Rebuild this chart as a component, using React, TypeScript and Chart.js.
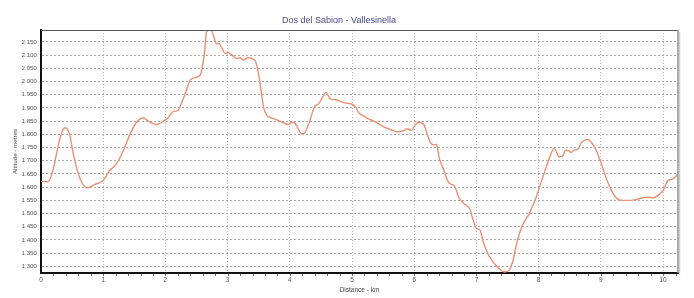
import React, { useEffect, useRef } from 'react';
import { Chart, registerables } from 'chart.js';

Chart.register(...registerables);

const titleText = 'Dos del Sabion - Vallesinella';
const xAxisTitle = 'Distance - km';
const yAxisTitle = 'Altitude - metres';

const distanceKm = [
  0.0, 0.11, 0.19, 0.27, 0.33, 0.39, 0.46, 0.51, 0.57, 0.64, 0.745, 0.86, 1.0, 1.1, 1.21, 1.32, 1.43, 1.53, 1.64, 1.69,
  1.75, 1.86, 1.97, 2.05, 2.13, 2.2, 2.26, 2.33, 2.4, 2.48, 2.56, 2.59, 2.63, 2.66, 2.73, 2.77, 2.82, 2.86, 2.91, 2.96,
  3.01, 3.07, 3.15, 3.2, 3.25, 3.33, 3.39, 3.45, 3.5, 3.54, 3.58, 3.63, 3.71, 3.82, 3.93, 3.97, 4.04, 4.09, 4.19, 4.22,
  4.3, 4.4, 4.46, 4.52, 4.58, 4.65, 4.73, 4.81, 4.89, 4.97, 5.05, 5.11, 5.17, 5.25, 5.35, 5.43, 5.54, 5.65, 5.73, 5.81,
  5.89, 5.96, 6.01, 6.08, 6.16, 6.21, 6.26, 6.32, 6.36, 6.4, 6.48, 6.56, 6.64, 6.72, 6.8, 6.89, 6.94, 7.0, 7.06, 7.1,
  7.18, 7.26, 7.37, 7.45, 7.53, 7.59, 7.66, 7.74, 7.85, 7.96, 8.04, 8.12, 8.2, 8.25, 8.33, 8.39, 8.43, 8.49, 8.52, 8.57,
  8.63, 8.69, 8.78, 8.85, 8.93, 9.01, 9.09, 9.2, 9.3, 9.41, 9.54, 9.68, 9.76, 9.84, 9.92, 10.0, 10.08, 10.16, 10.24,
];

const altitudeM = [
  1622, 1620, 1662, 1750, 1806, 1825, 1800, 1737, 1675, 1625, 1597, 1610, 1625, 1662, 1687, 1737, 1800, 1844, 1862, 1856,
  1846, 1837, 1850, 1865, 1887, 1890, 1919, 1962, 2006, 2015, 2025, 2050, 2112, 2187, 2198, 2175, 2144, 2144, 2125, 2106,
  2110, 2100, 2087, 2090, 2081, 2090, 2087, 2075, 2025, 1962, 1900, 1872, 1862, 1852, 1840, 1837, 1846, 1840, 1802, 1802,
  1837, 1906, 1915, 1937, 1959, 1934, 1931, 1925, 1919, 1916, 1906, 1881, 1872, 1860, 1850, 1840, 1825, 1815, 1809, 1812,
  1821, 1815, 1835, 1846, 1835, 1800, 1769, 1760, 1762, 1712, 1662, 1615, 1606, 1560, 1537, 1519, 1481, 1444, 1437, 1400,
  1350, 1319, 1290, 1279, 1287, 1325, 1400, 1456, 1500, 1562, 1619, 1675, 1727, 1747, 1715, 1719, 1740, 1737, 1731, 1740,
  1744, 1769, 1781, 1769, 1737, 1687, 1631, 1575, 1552, 1550, 1552, 1560, 1562, 1560, 1569, 1587, 1625, 1631, 1650,
];

const xTickValues = [0, 1, 2, 3, 4, 5, 6, 7, 8, 9, 10];
const yTickValues = [1300, 1350, 1400, 1450, 1500, 1550, 1600, 1650, 1700, 1750, 1800, 1850, 1900, 1950, 2000, 2050, 2100, 2150];
const xMinorStep = 0.2;

const narrowFont = "'Liberation Sans Narrow', 'Arial Narrow', 'Liberation Sans', Arial, sans-serif";

function formatThousands(v: number): string {
  const th = Math.floor(v / 1000);
  const rest = String(Math.round(v % 1000)).padStart(3, '0');
  return th > 0 ? `${th}.${rest}` : String(v);
}

const framePlugin = {
  id: 'frame',
  afterDraw(chart: any) {
    const { ctx, chartArea } = chart;
    const { left, right, top, bottom } = chartArea;
    const xs = chart.scales.x;
    ctx.save();
    ctx.strokeStyle = '#555555';
    ctx.lineWidth = 1;
    ctx.beginPath();
    ctx.moveTo(left, top + 0.5);
    ctx.lineTo(right, top + 0.5);
    ctx.stroke();
    ctx.strokeStyle = '#8a8a8a';
    ctx.lineWidth = 1.5;
    ctx.beginPath();
    ctx.moveTo(right, top);
    ctx.lineTo(right, bottom);
    ctx.stroke();
    ctx.strokeStyle = '#cfcfcf';
    ctx.lineWidth = 1.5;
    ctx.beginPath();
    ctx.moveTo(right + 1.5, top + 2);
    ctx.lineTo(right + 1.5, bottom);
    ctx.stroke();
    ctx.strokeStyle = '#777777';
    ctx.lineWidth = 1;
    const max = xs.max;
    for (let i = 1; i * xMinorStep <= max + 1e-9; i++) {
      const v = i * xMinorStep;
      const px = Math.round(xs.getPixelForValue(v)) + 0.5;
      ctx.beginPath();
      ctx.moveTo(px, bottom + 1);
      ctx.lineTo(px, bottom + 3);
      ctx.stroke();
    }
    ctx.restore();
  },
};

export default function App() {
  const canvasRef = useRef<HTMLCanvasElement | null>(null);

  useEffect(() => {
    if (!canvasRef.current) return;
    const points = distanceKm.map((d, i) => ({ x: d, y: altitudeM[i] }));
    const chart = new Chart(canvasRef.current, {
      type: 'line',
      data: {
        datasets: [
          {
            data: points,
            borderColor: '#ec8f72',
            borderWidth: 1.4,
            pointRadius: 0,
            fill: false,
            cubicInterpolationMode: 'monotone',
          },
        ],
      },
      plugins: [framePlugin],
      options: {
        animation: false,
        responsive: false,
        devicePixelRatio: 1,
        layout: { padding: { left: 0, right: 16, top: 0, bottom: 0 } },
        plugins: {
          legend: { display: false },
          tooltip: { enabled: false },
          title: {
            display: true,
            text: titleText,
            color: '#4a4a8c',
            font: { family: narrowFont, size: 9, weight: 'normal' },
            padding: { top: 15, bottom: 4.2 },
          },
        },
        scales: {
          x: {
            type: 'linear',
            min: 0,
            max: 10.24,
            afterBuildTicks: (scale: any) => {
              scale.ticks = xTickValues.map((v) => ({ value: v }));
            },
            afterFit: (scale: any) => {
              scale.height = 25;
            },
            ticks: {
              color: '#555555',
              font: { family: narrowFont, size: 6.5 },
              padding: 3,
              maxRotation: 0,
              autoSkip: false,
              callback: (v: any) => String(v),
            },
            grid: {
              color: '#b5b5b5',
              lineWidth: 1,
              drawTicks: false,
            },
            border: { color: '#111111', width: 2, dash: [1, 2] },
            title: {
              display: true,
              text: xAxisTitle,
              color: '#444444',
              font: { family: narrowFont, size: 6.5 },
              padding: { top: 0, bottom: 4 },
            },
          },
          y: {
            type: 'linear',
            min: 1275,
            max: 2195,
            afterBuildTicks: (scale: any) => {
              scale.ticks = yTickValues.map((v) => ({ value: v }));
            },
            afterFit: (scale: any) => {
              scale.width = 41;
            },
            ticks: {
              color: '#555555',
              font: { family: narrowFont, size: 6.2 },
              padding: 4,
              autoSkip: false,
              callback: (v: any) => formatThousands(Number(v)),
            },
            grid: {
              color: '#a8a8a8',
              lineWidth: 1,
              drawTicks: false,
            },
            border: { color: '#111111', width: 2, dash: [2, 2] },
            title: {
              display: true,
              text: yAxisTitle,
              color: '#444444',
              font: { family: narrowFont, size: 6.2 },
              padding: { top: 12, bottom: 0 },
            },
          },
        },
      },
    } as any);
    return () => chart.destroy();
  }, []);

  return (
    <div style={{ position: 'absolute', left: 0, top: 0, width: 694, height: 298, background: '#ffffff' }}>
      <canvas ref={canvasRef} width={694} height={298} style={{ display: 'block' }} />
    </div>
  );
}
